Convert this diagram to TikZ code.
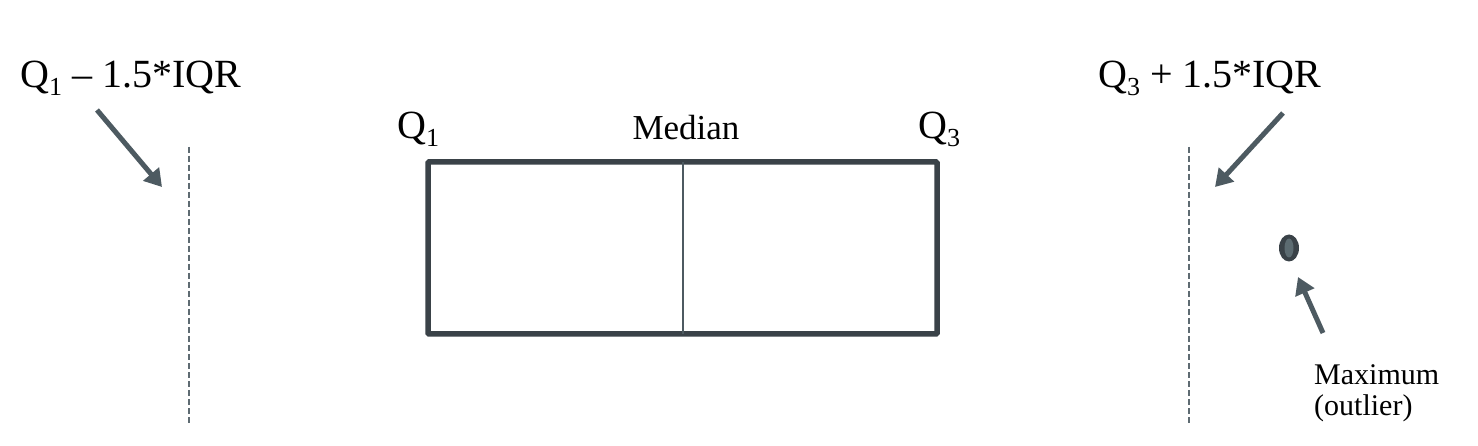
\documentclass[tikz,border=0pt]{standalone}
\usepackage{fontspec}
\setmainfont{Liberation Serif}
\usetikzlibrary{arrows.meta,shapes.geometric}
\definecolor{boxcol}{HTML}{3A4248}
\definecolor{arrcol}{HTML}{4D5A61}
\definecolor{dashcol}{HTML}{5E6B72}
\definecolor{dotin}{HTML}{5C6B71}
\newcommand\subtxt[1]{\raisebox{-0.2em}{\fontsize{26}{26}\selectfont #1}}
\begin{document}
\begin{tikzpicture}[x=1pt,y=-1pt,
  biglabel/.style={inner sep=0pt,anchor=base west,font=\fontsize{40}{48}\selectfont},
  qlabel/.style={inner sep=0pt,anchor=base west,font=\fontsize{40}{48}\selectfont},
  medlabel/.style={inner sep=0pt,anchor=base,font=\fontsize{35}{40}\selectfont},
  smalllabel/.style={inner sep=0pt,anchor=north west,align=left,font=\fontsize{30}{31}\selectfont},
  boxstyle/.style={draw=boxcol,line width=5.5pt,rounded corners=1pt,minimum width=509pt,minimum height=172pt,inner sep=0pt,outer sep=0pt},
  fence/.style={draw=dashcol,line width=2pt,dash pattern=on 6pt off 3pt},
  pointer/.style={draw=arrcol,line width=5pt,-{Triangle[length=17pt,width=20pt]}},
]
\useasboundingbox (0,0) rectangle (1478,446);
\fill[white] (0,0) rectangle (1478,446);

% labels
\node[biglabel] (lo) at (20,88) {Q\subtxt{1} – 1.5*IQR};
\node[biglabel] (hi) at (1098,88) {Q\subtxt{3} + 1.5*IQR};
\node[qlabel] (q1) at (397,139) {Q\subtxt{1}};
\node[medlabel] (med) at (686,140) {Median};
\node[qlabel] (q3) at (918,139) {Q\subtxt{3}};
\node[smalllabel] (maxl) at (1314,364) {Maximum\\(outlier)};

% box
\node[boxstyle] (box) at (682.5,248) {};
\draw[arrcol,line width=2pt] (box.north) -- (box.south);

% fences
\coordinate (lf1) at (189,147);
\coordinate (lf2) at (189,425);
\coordinate (rf1) at (1189,147);
\coordinate (rf2) at (1189,425);
\draw[fence] (lf1) -- (lf2);
\draw[fence] (rf1) -- (rf2);

% outlier
\node[ellipse,fill=boxcol,minimum width=20pt,minimum height=27pt,inner sep=0pt] (out) at (1289,248) {};
\fill[dotin] (out.center) ellipse (4.5pt and 9.5pt);

% arrows
\coordinate (la1) at (97,110);
\coordinate (la2) at (162,187);
\coordinate (ra1) at (1283,113);
\coordinate (ra2) at (1215,187);
\coordinate (oa1) at (1323,333);
\coordinate (oa2) at (1298,277);
\draw[pointer] (la1) -- (la2);
\draw[pointer] (ra1) -- (ra2);
\draw[pointer] (oa1) -- (oa2);
\end{tikzpicture}
\end{document}
